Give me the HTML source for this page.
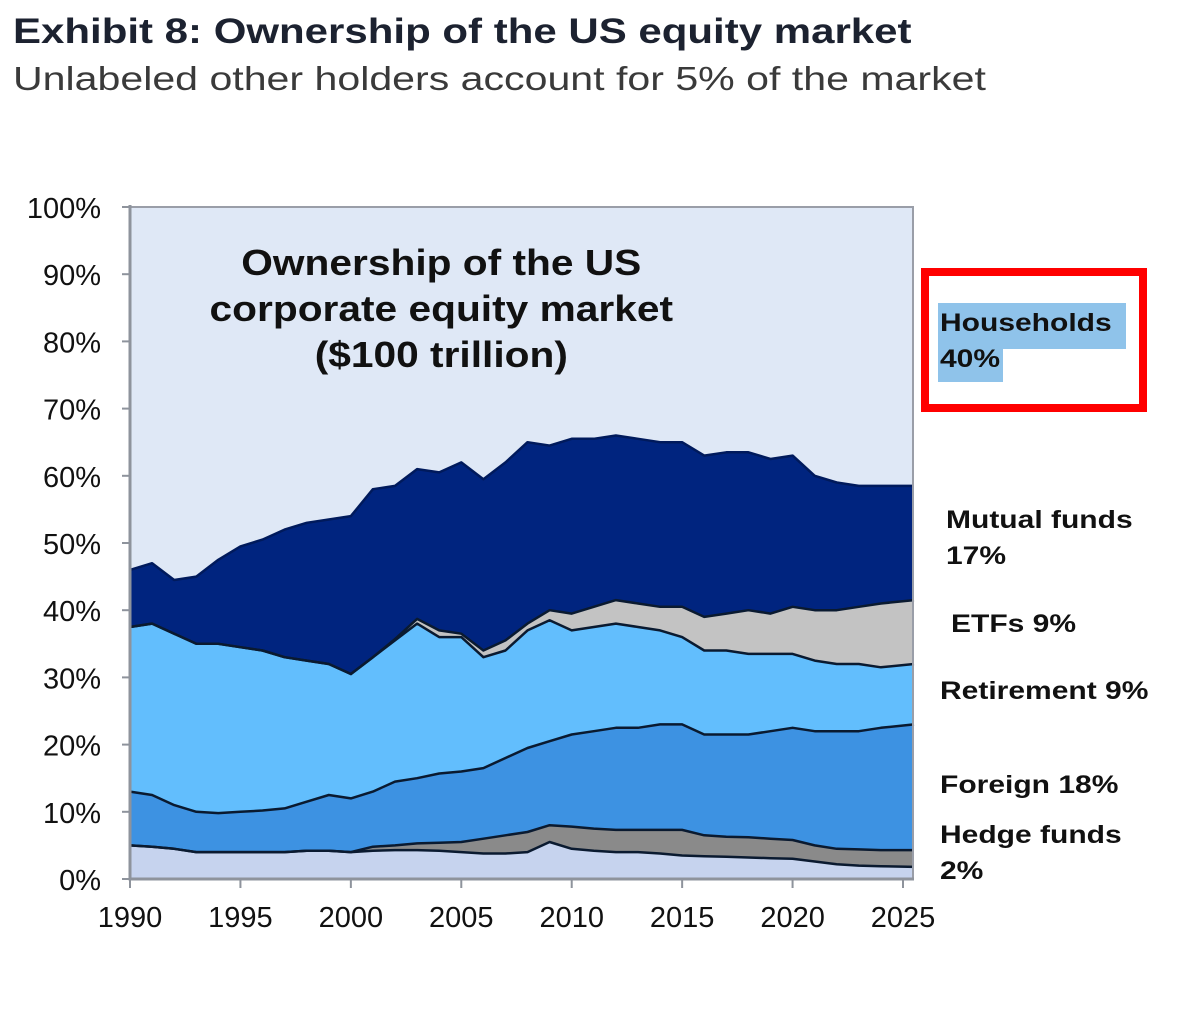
<!DOCTYPE html>
<html><head><meta charset="utf-8"><style>
body{margin:0;background:#fff;width:1200px;height:1020px;overflow:hidden;font-family:"Liberation Sans",sans-serif}
.t{position:absolute;white-space:nowrap;transform-origin:0 0}
.lab{font-size:25px;font-weight:bold;line-height:36px;color:#111;transform:scaleX(1.2)}
</style></head><body>
<div class="t" style="left:13px;top:12px;font-size:35px;font-weight:bold;color:#1c2230;transform:scaleX(1.2)">Exhibit 8: Ownership of the US equity market</div>
<div class="t" style="left:13px;top:60px;font-size:33px;color:#3a3a3a;transform:scaleX(1.245)">Unlabeled other holders account for 5% of the market</div>
<svg id="chart" width="1200" height="1020" style="position:absolute;left:0;top:0"></svg>
<script>
const years=[1990,1991,1992,1993,1994,1995,1996,1997,1998,1999,2000,2001,2002,2003,2004,2005,2006,2007,2008,2009,2010,2011,2012,2013,2014,2015,2016,2017,2018,2019,2020,2021,2022,2023,2024,2025.5];
const otherBottom=[5,4.8,4.5,4,4,4,4,4,4.2,4.2,4,4.2,4.3,4.3,4.2,4,3.8,3.8,4,5.5,4.5,4.2,4,4,3.8,3.5,3.4,3.3,3.2,3.1,3,2.6,2.2,2,1.9,1.8];
const hedgeFunds=[0,0,0,0,0,0,0,0,0,0,0,0.6,0.7,1,1.2,1.5,2.2,2.7,3,2.5,3.3,3.3,3.3,3.3,3.5,3.8,3.1,3,3,2.9,2.8,2.4,2.3,2.4,2.4,2.5];
const foreign=[8,7.7,6.5,6,5.8,6,6.2,6.5,7.3,8.3,8,8.2,9.5,9.7,10.3,10.5,10.5,11.5,12.5,12.5,13.7,14.5,15.2,15.2,15.7,15.7,15,15.2,15.3,16,16.7,17,17.5,17.6,18.2,18.7];
const retirement=[24.5,25.5,25.5,25,25.2,24.5,23.8,22.5,21,19.5,18.5,20,21,23,20.3,20,16.5,16,17.5,18,15.5,15.5,15.5,15,14,13,12.5,12.5,12,11.5,11,10.5,10,10,9,9];
const etfs=[0,0,0,0,0,0,0,0,0,0,0,0,0.2,0.7,1,0.5,1,1.5,1,1.5,2.5,3,3.5,3.5,3.5,4.5,5,5.5,6.5,6,7,7.5,8,8.5,9.5,9.5];
const mutualFunds=[8.5,9,8,10,12.5,15,16.5,19,20.5,21.5,23.5,25,22.8,22.3,23.5,25.5,25.5,26.5,27,24.5,26,25,24.5,24.5,24.5,24.5,24,24,23.5,23,22.5,20,19,18,17.5,17];
const yTicks=[0,10,20,30,40,50,60,70,80,90,100];
const xTicks=[1990,1995,2000,2005,2010,2015,2020,2025];

const NS="http://www.w3.org/2000/svg";
const svg=document.getElementById('chart');
const L=130,R=913,T=207,B=879;
const xS=y=>L+(y-1990)*(903-130)/35;
const yS=v=>B-v*(B-T)/100;
function el(tag,attrs,parent){const e=document.createElementNS(NS,tag);for(const k in attrs)e.setAttribute(k,attrs[k]);(parent||svg).appendChild(e);return e;}

const bg=el('rect',{x:L,y:T,width:R-L,height:B-T,fill:'#dfe8f6'});



const series=[
 {n:'other-holders-area',v:otherBottom,c:'#c6d3ee'},
 {n:'hedge-funds-area',v:hedgeFunds,c:'#8a8a8a'},
 {n:'foreign-area',v:foreign,c:'#3d92e2'},
 {n:'retirement-area',v:retirement,c:'#62befd'},
 {n:'etfs-area',v:etfs,c:'#c3c3c3'},
 {n:'mutual-funds-area',v:mutualFunds,c:'#00247f'}];
let base=years.map(()=>0);
const lines=[];
series.forEach(s=>{
 const top=base.map((b,i)=>b+s.v[i]);
 let d='M'+years.map((y,i)=>xS(y).toFixed(1)+','+yS(top[i]).toFixed(1)).join('L');
 for(let i=years.length-1;i>=0;i--)d+='L'+xS(years[i]).toFixed(1)+','+yS(base[i]).toFixed(1);
 d+='Z';
 const p=el('path',{d:d,fill:s.c});
 
 
 lines.push(top);
 base=top;
});
lines.forEach((top,k)=>{
 const d='M'+years.map((y,i)=>xS(y).toFixed(1)+','+yS(top[i]).toFixed(1)).join('L');
 const ln=el('path',{d:d,fill:'none',stroke:k==5?'#001a5c':'#0a1a30','stroke-width':2.5,'stroke-linejoin':'round'});
 
 
});
const fr=el('rect',{x:L,y:T,width:R-L,height:B-T,fill:'none',stroke:'#9a9ea8','stroke-width':2});


const ax=el('path',{d:`M${L},${T-2}V${B}H${R+1}`,fill:'none',stroke:'#8e939c','stroke-width':3});


yTicks.forEach(v=>{
 const tk=el('line',{x1:L-8,x2:L,y1:yS(v),y2:yS(v),stroke:'#8e939c','stroke-width':2});
 
 
 const t=el('text',{x:101,y:yS(v)+11,'text-anchor':'end','font-size':29,fill:'#111'});
 t.textContent=v+'%';
 
 
});
xTicks.forEach(v=>{
 const tk=el('line',{x1:xS(v),x2:xS(v),y1:B,y2:B+9,stroke:'#8e939c','stroke-width':2});
 
 
 const t=el('text',{x:xS(v),y:B+48,'text-anchor':'middle','font-size':29,fill:'#111'});
 t.textContent=v;
 
 
});
</script>
<div class="t" style="left:178px;top:240px;width:466px;text-align:center;font-size:36px;font-weight:bold;line-height:46px;color:#111;transform:scaleX(1.13)">Ownership of the US<br>corporate equity market<br>($100 trillion)</div>
<div style="position:absolute;left:921px;top:268px;width:210px;height:128px;border:8px solid #f00;"></div>
<div style="position:absolute;left:938px;top:303px;width:188px;height:46px;background:#8fc3ea"></div>
<div style="position:absolute;left:938px;top:348px;width:65px;height:34px;background:#8fc3ea"></div>
<div class="t lab" style="left:940px;top:305px;">Households<br>40%</div>
<div class="t lab" style="left:946px;top:502px;">Mutual funds<br>17%</div>
<div class="t lab" style="left:951px;top:606px;">ETFs 9%</div>
<div class="t lab" style="left:940px;top:673px;">Retirement 9%</div>
<div class="t lab" style="left:940px;top:767px;">Foreign 18%</div>
<div class="t lab" style="left:940px;top:817px;">Hedge funds<br>2%</div>
</body></html>
